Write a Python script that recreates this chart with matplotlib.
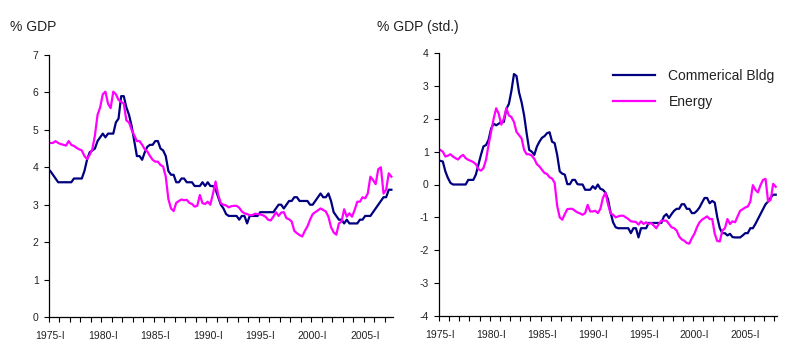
import matplotlib
matplotlib.use("Agg")
import matplotlib.pyplot as plt
import numpy as np

plt.rcParams['font.family'] = ['Liberation Sans', 'DejaVu Sans']

# Quarterly data, starting 1975-I
commercial_gdp = [
    3.9, 3.8, 3.7, 3.6, 3.6, 3.6, 3.6, 3.6, 3.6, 3.7,
    3.7, 3.7, 3.7, 3.9, 4.2, 4.4, 4.45, 4.5, 4.7, 4.8,
    4.9, 4.8, 4.9, 4.9, 4.9, 5.2, 5.3, 5.9, 5.9, 5.6,
    5.4, 5.1, 4.7, 4.3, 4.3, 4.2, 4.4, 4.55, 4.6, 4.6,
    4.7, 4.7, 4.5, 4.45, 4.3, 3.9, 3.8, 3.8, 3.6, 3.6,
    3.7, 3.7, 3.6, 3.6, 3.6, 3.5, 3.5, 3.5, 3.6, 3.5,
    3.6, 3.5, 3.5, 3.4, 3.2, 3.0, 2.9, 2.75, 2.7, 2.7,
    2.7, 2.7, 2.6, 2.7, 2.7, 2.5, 2.7, 2.7, 2.7, 2.7,
    2.8, 2.8, 2.8, 2.8, 2.8, 2.8, 2.9, 3.0, 3.0, 2.9,
    3.0, 3.1, 3.1, 3.2, 3.2, 3.1, 3.1, 3.1, 3.1, 3.0,
    3.0, 3.1, 3.2, 3.3, 3.2, 3.2, 3.3, 3.1, 2.8, 2.7,
    2.6, 2.6, 2.5, 2.6, 2.5, 2.5, 2.5, 2.5, 2.6, 2.6,
    2.7, 2.7, 2.7, 2.8, 2.9, 3.0, 3.1, 3.2, 3.2, 3.4, 3.4,
]
energy_gdp = [
    4.65, 4.65, 4.7, 4.65, 4.62, 4.6, 4.58, 4.7, 4.6, 4.57,
    4.52, 4.48, 4.45, 4.3, 4.22, 4.33, 4.48, 4.85, 5.4, 5.6,
    5.95, 6.02, 5.7, 5.58, 6.02, 5.95, 5.8, 5.75, 5.7, 5.25,
    5.2, 5.0, 4.85, 4.7, 4.7, 4.6, 4.48, 4.42, 4.3, 4.2,
    4.15, 4.15, 4.06, 4.02, 3.75, 3.15, 2.9, 2.83, 3.05, 3.1,
    3.14, 3.12, 3.13, 3.05, 3.02, 2.95, 2.97, 3.26, 3.04, 3.02,
    3.08, 3.0, 3.3, 3.62, 3.26, 3.04, 3.0, 2.98, 2.93, 2.96,
    2.97, 2.97, 2.92, 2.82, 2.77, 2.75, 2.72, 2.72, 2.76, 2.75,
    2.74, 2.72, 2.68, 2.6, 2.58, 2.68, 2.8, 2.7, 2.79, 2.8,
    2.64, 2.61, 2.55, 2.3, 2.24, 2.19, 2.15, 2.3, 2.42, 2.6,
    2.75, 2.8, 2.85, 2.9, 2.86, 2.82, 2.68, 2.4, 2.26, 2.2,
    2.5, 2.55, 2.88, 2.68, 2.77, 2.68, 2.86, 3.08, 3.08, 3.2,
    3.17, 3.3, 3.75, 3.66, 3.55, 3.95, 4.0, 3.3, 3.4, 3.84, 3.75,
]
commercial_std = [
    0.72, 0.7, 0.4, 0.2, 0.05, 0.0, 0.0, 0.0, 0.0, 0.0,
    0.0, 0.14, 0.14, 0.14, 0.3, 0.6, 0.9, 1.16, 1.2, 1.36,
    1.7, 1.85, 1.8, 1.85, 1.9, 1.9, 2.3, 2.45, 2.85, 3.36,
    3.3, 2.8, 2.5, 2.1, 1.55, 1.05, 1.0, 0.9, 1.15, 1.3,
    1.42, 1.47, 1.56, 1.59, 1.3, 1.26, 0.9, 0.4, 0.33, 0.3,
    0.01, 0.01, 0.14, 0.14, 0.01, 0.0, 0.0, -0.16, -0.16, -0.16,
    -0.05, -0.13, 0.0, -0.13, -0.16, -0.25, -0.45, -0.85, -1.15, -1.3,
    -1.33, -1.33, -1.33, -1.33, -1.33, -1.48, -1.33, -1.33, -1.61, -1.33,
    -1.33, -1.33, -1.17, -1.17, -1.17, -1.17, -1.17, -1.17, -0.97, -0.9,
    -1.02, -0.9, -0.8, -0.74, -0.74, -0.6, -0.6, -0.74, -0.74, -0.87,
    -0.87, -0.8, -0.7, -0.55, -0.41, -0.41, -0.57, -0.5, -0.55, -1.0,
    -1.33, -1.48, -1.48, -1.55, -1.5, -1.6, -1.61, -1.61, -1.61, -1.55,
    -1.48, -1.48, -1.33, -1.33, -1.2, -1.05, -0.9, -0.75, -0.6, -0.52,
    -0.4, -0.31, -0.31,
]
energy_std = [
    1.05, 1.0, 0.85, 0.88, 0.92, 0.85, 0.8, 0.76, 0.85, 0.9,
    0.8, 0.75, 0.72, 0.68, 0.62, 0.47, 0.42, 0.5, 0.75, 1.2,
    1.6, 2.0, 2.32, 2.15, 1.82, 2.0, 2.32, 2.1, 2.05, 1.9,
    1.6, 1.5, 1.4, 1.05, 0.92, 0.92, 0.88, 0.78, 0.62, 0.55,
    0.45, 0.35, 0.32, 0.22, 0.18, 0.05, -0.65, -1.0, -1.07, -0.9,
    -0.75, -0.74, -0.74, -0.8, -0.85, -0.88, -0.92, -0.87, -0.62, -0.82,
    -0.82, -0.8, -0.87, -0.74, -0.41, -0.25, -0.6, -0.88, -0.92, -1.0,
    -0.97, -0.95, -0.95, -1.0, -1.05, -1.12, -1.13, -1.14, -1.22, -1.12,
    -1.2, -1.15, -1.2, -1.17, -1.25, -1.33, -1.2, -1.1, -1.1, -1.1,
    -1.2, -1.3, -1.33, -1.4, -1.58, -1.67, -1.71, -1.78, -1.8, -1.63,
    -1.5, -1.3, -1.15, -1.07, -1.02, -0.97, -1.05, -1.05, -1.5, -1.72,
    -1.73, -1.4, -1.33, -1.05, -1.2, -1.12, -1.15, -0.97, -0.8, -0.75,
    -0.7, -0.67, -0.52, -0.02, -0.16, -0.24, -0.02, 0.14, 0.17, -0.52,
    -0.47, 0.02, -0.07,
]
tick_labels = ["1975-I", "1980-I", "1985-I", "1990-I", "1995-I", "2000-I", "2005-I"]
series_names = ["Commerical Bldg", "Energy"]

NAVY = "#000080"
MAG = "#FF00FF"

fig = plt.figure(figsize=(8, 3.55), dpi=100)
ax1 = fig.add_axes([49/800, 38/355, 343.7/800, 262/355])
ax2 = fig.add_axes([439/800, 39/355, 338/800, 263/355])


def style(ax, n, ylo, yhi):
    for s in ["top", "right"]:
        ax.spines[s].set_visible(False)
    for s in ["left", "bottom"]:
        ax.spines[s].set_linewidth(0.9)
        ax.spines[s].set_color("black")
    ax.set_xlim(-0.5, n - 0.5)
    ax.set_ylim(ylo, yhi)
    ax.set_yticks(np.arange(ylo, yhi + 1, 1))
    ax.set_yticklabels([str(v) for v in range(ylo, yhi + 1)])
    ax.set_xticks([20 * k for k in range(len(tick_labels))])
    ax.set_xticklabels(tick_labels)
    ax.set_xticks(np.arange(-0.5, n, 4), minor=True)
    ax.tick_params(axis="x", which="major", length=0, pad=10, labelsize=7.5, colors="#222222")
    ax.tick_params(axis="x", which="minor", length=3.5, width=0.8, direction="out")
    ax.tick_params(axis="y", length=3.5, width=0.8, direction="out", pad=4,
                   labelsize=7.5, colors="#222222")
    ax.tick_params(axis="both", color="black")


x1 = np.arange(len(commercial_gdp))
l1, = ax1.plot(x1, commercial_gdp, color=NAVY, lw=1.6)
l2, = ax1.plot(np.arange(len(energy_gdp)), energy_gdp, color=MAG, lw=1.6)
style(ax1, 131, 0, 7)

ax2.plot(np.arange(len(commercial_std)), commercial_std, color=NAVY, lw=1.6)
ax2.plot(np.arange(len(energy_std)), energy_std, color=MAG, lw=1.6)
style(ax2, 133, -4, 4)

fig.text(10/800, 1 - 27/355, "% GDP", fontsize=10, va="center", ha="left", color="#222222")
fig.text(377/800, 1 - 27/355, "% GDP (std.)", fontsize=10, va="center", ha="left", color="#222222")

fig.legend([l1, l2], series_names, loc="upper left",
           bbox_to_anchor=(606/800, 1 - 62/355), frameon=False,
           fontsize=10, handlelength=3.0, handletextpad=1.0,
           labelspacing=0.85, borderpad=0, labelcolor="#222222")

fig.savefig("out.png", dpi=100)
